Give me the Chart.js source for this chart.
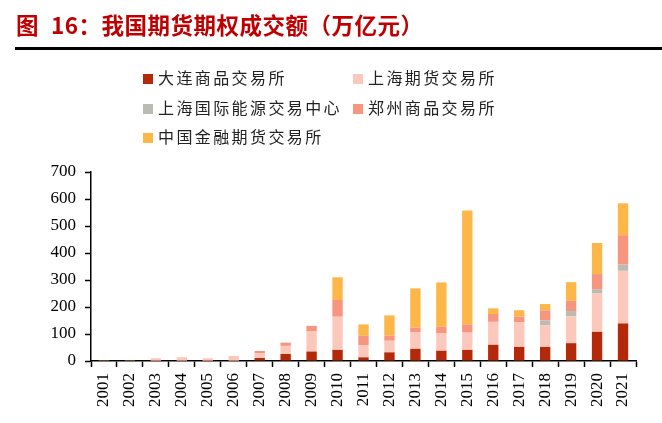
<!DOCTYPE html>
<html>
<head>
<meta charset="utf-8">
<script src="https://cdn.jsdelivr.net/npm/chart.js@4.4.0/dist/chart.umd.min.js"></script>
<style>
	body { margin: 0; background: #fff; }
	#wrap { position: relative; width: 662px; height: 423px; overflow: hidden; }
	#chart { position: absolute; left: 0; top: 0; }
	.title {
		position: absolute; top: 13px; line-height: 1;
		font-family: "Noto Sans CJK SC", sans-serif; font-weight: bold;
		font-size: 22.5px; letter-spacing: 0.5px; color: #c00000; white-space: nowrap;
	}
	#rule { position: absolute; left: 15px; right: 0; top: 47px; height: 2.5px; background: #000; }
	.item {
		position: absolute; font-family: "Noto Sans CJK SC", sans-serif;
		font-size: 16px; letter-spacing: 2.4px; color: #222; white-space: nowrap;
		line-height: 20px;
	}
	.item span.box { display: inline-block; width: 10px; height: 10px; margin-right: 5px; vertical-align: 0px; }
</style>
</head>
<body>
<div id="wrap">
	<canvas id="chart" width="662" height="423"></canvas>
	<div class="title" style="left:16px">图</div>
	<div class="title" style="left:51px">16：我国期货期权成交额（万亿元）</div>
	<div id="rule"></div>
	<div id="legend"></div>
</div>
<script>
// Years on the x axis
const years = ["2001", "2002", "2003", "2004", "2005", "2006", "2007", "2008", "2009", "2010", "2011",
	"2012", "2013", "2014", "2015", "2016", "2017", "2018", "2019", "2020", "2021"];

// 成交额 (万亿元)
const dalian = [1, 1, 0.5, 1, 0.5, 1, 11, 26, 35, 41, 13.5, 32, 45, 38, 41, 60, 52, 52, 66, 108, 139];
const shanghai = [1, 1, 8.5, 11, 8.5, 15, 18, 30, 76, 123, 45, 43, 62, 64, 64, 85, 91, 81, 99, 142, 195];
const energy = [0, 0, 0, 0, 0, 0, 0, 0, 0, 0, 0, 0, 0, 0, 0, 0, 0, 17, 20, 16, 23];
const zhengzhou = [0.3, 0.3, 1, 1.5, 1, 2, 8, 12, 19, 62, 35, 19, 17, 25, 31, 29, 21, 37, 38, 56, 109];
const financial = [0, 0, 0, 0, 0, 0, 0, 0, 0, 84, 42, 75, 145, 164, 421, 21, 24, 24, 69, 115, 118];

const seriesNames = ["大连商品交易所", "上海期货交易所", "上海国际能源交易中心", "郑州商品交易所", "中国金融期货交易所"];
const seriesColors = ["#b5290b", "#fcc8bb", "#bcbbb3", "#f7957f", "#fdb748"];
const yTicks = [0, 100, 200, 300, 400, 500, 600, 700];

// legend spots (2 columns like the original)
const legendSpots = [[143, 67], [353, 67], [143, 97], [353, 97], [143, 126]];

const legendEl = document.getElementById("legend");
seriesNames.forEach((name, i) => {
	const div = document.createElement("div");
	div.className = "item";
	div.style.left = legendSpots[i][0] + "px";
	div.style.top = legendSpots[i][1] + "px";
	div.innerHTML = '<span class="box" style="background:' + seriesColors[i] + '"></span>' + name;
	legendEl.appendChild(div);
});

const allSeries = [dalian, shanghai, energy, zhengzhou, financial];

const axisFont = { family: "'Liberation Serif', 'Times New Roman', serif", size: 17 };

new Chart(document.getElementById("chart"), {
	type: "bar",
	data: {
		labels: years,
		datasets: allSeries.map((values, i) => ({
			label: seriesNames[i],
			data: values,
			backgroundColor: seriesColors[i],
			borderWidth: 0,
			barPercentage: 0.4,
			categoryPercentage: 1.0,
		})),
	},
	options: {
		responsive: false,
		animation: false,
		devicePixelRatio: 1,
		layout: { padding: { top: 172, left: 0, right: 26, bottom: 0 } },
		plugins: {
			legend: { display: false },
			tooltip: { enabled: false },
		},
		scales: {
			x: {
				stacked: true,
				afterFit: (scale) => { scale.height = 62; },
				grid: {
					offset: true,
					drawOnChartArea: false,
					drawTicks: true,
					tickLength: 6,
					tickColor: "#000",
					tickWidth: 1.5,
				},
				border: { display: true, color: "#000", width: 1.5 },
				ticks: {
					color: "#000",
					font: axisFont,
					minRotation: 90,
					maxRotation: 90,
					padding: 6,
					autoSkip: false,
				},
			},
			y: {
				stacked: true,
				min: 0,
				max: 700,
				afterFit: (scale) => { scale.width = 91; },
				afterBuildTicks: (scale) => { scale.ticks = yTicks.map((v) => ({ value: v })); },
				grid: {
					drawOnChartArea: false,
					drawTicks: true,
					tickLength: 6,
					tickColor: "#000",
					tickWidth: 1.5,
				},
				border: { display: true, color: "#000", width: 1.5 },
				ticks: {
					color: "#000",
					font: axisFont,
					padding: 9,
				},
			},
		},
	},
});
</script>
</body>
</html>
